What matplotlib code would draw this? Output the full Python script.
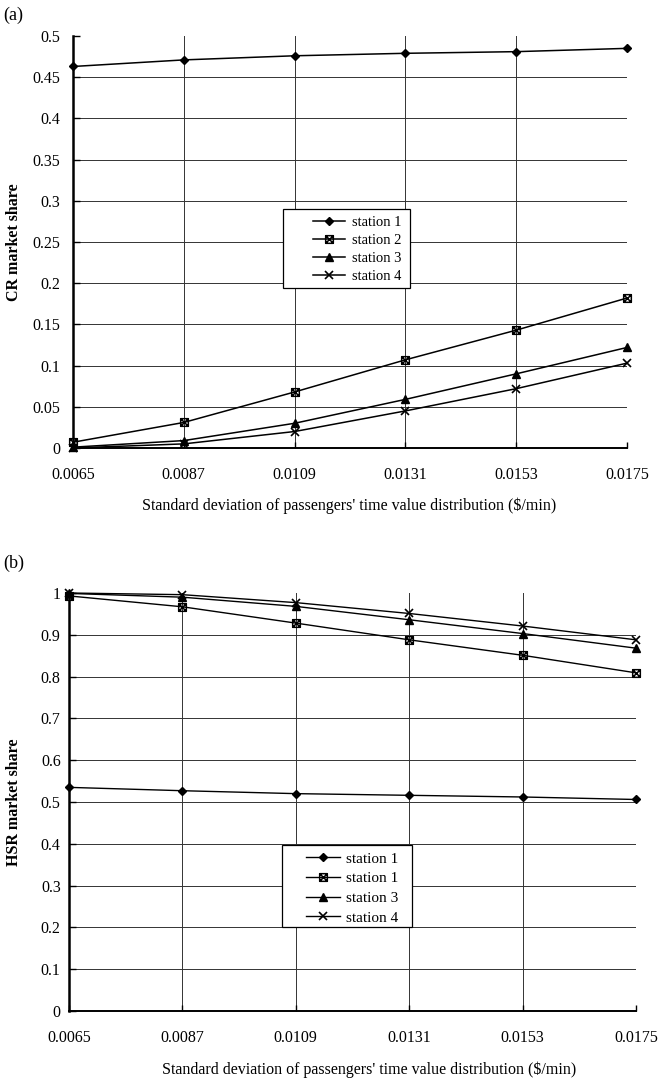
import matplotlib
matplotlib.use("Agg")
import matplotlib.pyplot as plt
from matplotlib.path import Path
from matplotlib.patches import Rectangle

plt.rcParams['font.family'] = ['Liberation Serif', 'DejaVu Serif']

# ---------------- data ----------------
x_values = [0.0065, 0.0087, 0.0109, 0.0131, 0.0153, 0.0175]
x_ticklabels = ["0.0065", "0.0087", "0.0109", "0.0131", "0.0153", "0.0175"]

cr_station1 = [0.463, 0.471, 0.476, 0.479, 0.481, 0.485]
cr_station2 = [0.007, 0.031, 0.068, 0.107, 0.143, 0.182]
cr_station3 = [0.001, 0.009, 0.030, 0.059, 0.090, 0.122]
cr_station4 = [0.000, 0.005, 0.020, 0.045, 0.072, 0.103]

hsr_station1 = [0.535, 0.527, 0.520, 0.516, 0.512, 0.506]
hsr_station2 = [0.993, 0.967, 0.928, 0.888, 0.851, 0.809]
hsr_station3 = [0.999, 0.990, 0.968, 0.936, 0.903, 0.868]
hsr_station4 = [1.000, 0.996, 0.977, 0.951, 0.921, 0.888]

cr_labels = ["station 1", "station 2", "station 3", "station 4"]
hsr_labels = ["station 1", "station 1", "station 3", "station 4"]

cr_yticks = [0, 0.05, 0.1, 0.15, 0.2, 0.25, 0.3, 0.35, 0.4, 0.45, 0.5]
cr_yticklabels = ["0", "0.05", "0.1", "0.15", "0.2", "0.25", "0.3", "0.35", "0.4", "0.45", "0.5"]
hsr_yticks = [0, 0.1, 0.2, 0.3, 0.4, 0.5, 0.6, 0.7, 0.8, 0.9, 1.0]
hsr_yticklabels = ["0", "0.1", "0.2", "0.3", "0.4", "0.5", "0.6", "0.7", "0.8", "0.9", "1"]

xlabel = "Standard deviation of passengers' time value distribution ($/min)"

# ---------------- styles ----------------
boxx = Path([(-1, -1), (1, -1), (1, 1), (-1, 1), (-1, -1),
             (-1, -1), (1, 1), (-1, 1), (1, -1)],
            [Path.MOVETO, Path.LINETO, Path.LINETO, Path.LINETO, Path.CLOSEPOLY,
             Path.MOVETO, Path.LINETO, Path.MOVETO, Path.LINETO])

styles = [
    dict(marker='D', ms=4.5, mfc='black', mec='black'),
    dict(marker=boxx, ms=5.5, mfc='none', mec='black', mew=1.1),
    dict(marker='^', ms=5.5, mfc='black', mec='black'),
    dict(marker='x', ms=6, mec='black', mew=1.2),
]

W, H = 658, 1085
fig = plt.figure(figsize=(W / 100, H / 100), dpi=100)


def px_axes(l, r, t, b):
    return fig.add_axes([l / W, 1 - b / H, (r - l) / W, (b - t) / H])


def setup(ax, yticks, yticklabels, ylim, ylabel, ylab_x, xlab_x, xlab_y, ypad):
    ax.set_xlim(x_values[0], x_values[-1])
    ax.set_ylim(*ylim)
    ax.set_xticks(x_values)
    ax.set_xticklabels(x_ticklabels)
    ax.set_yticks(yticks)
    ax.set_yticklabels(yticklabels)
    ax.tick_params(axis='x', direction='in', length=4, width=1.0, pad=14, labelsize=11.5)
    ax.tick_params(axis='y', direction='in', length=5, width=1.0, pad=ypad, labelsize=11.5)
    ax.grid(True, color='#333333', linewidth=0.7)
    ax.set_axisbelow(True)
    xg = ax.get_xgridlines()
    xg[0].set_visible(False)
    xg[-1].set_visible(False)
    yg = ax.get_ygridlines()
    yg[0].set_visible(False)
    yg[-1].set_visible(False)
    for s in ['top', 'right']:
        ax.spines[s].set_visible(False)
    ax.spines['left'].set_linewidth(1.8)
    ax.spines['bottom'].set_linewidth(1.4)
    ax.set_ylabel(ylabel, fontsize=11.5, fontweight='bold')
    ax.yaxis.set_label_coords(ylab_x, 0.5)
    ax.set_xlabel(xlabel, fontsize=11.5)
    ax.xaxis.set_label_coords(xlab_x, xlab_y)


def legend_box(handles, labels, rect, anchor, fs, spacing):
    l, r, t, b = rect
    fig.patches.append(Rectangle((l / W, 1 - b / H), (r - l) / W, (b - t) / H,
                                 transform=fig.transFigure, facecolor='white',
                                 edgecolor='black', linewidth=0.9, zorder=5))
    leg = fig.legend(handles, labels, loc='upper left',
                     bbox_to_anchor=(anchor[0] / W, 1 - anchor[1] / H),
                     bbox_transform=fig.transFigure, frameon=False,
                     fontsize=fs, handlelength=2.2, handletextpad=0.45,
                     labelspacing=spacing, borderpad=0, borderaxespad=0)
    leg.set_zorder(6)


# ---------------- panel (a) ----------------
ax1 = px_axes(73, 627, 36, 448)
cr_series = [cr_station1, cr_station2, cr_station3, cr_station4]
h1 = []
for ys, st in zip(cr_series, styles):
    ln, = ax1.plot(x_values, ys, color='black', lw=1.1, clip_on=False, zorder=3, **st)
    h1.append(ln)
setup(ax1, cr_yticks, cr_yticklabels, (0, 0.5), "CR market share",
      -0.092, 0.498, -0.121, 9)
legend_box(h1, cr_labels, (283, 410, 209, 288), (313, 216), 10.5, 0.32)
fig.text(3 / W, 1 - 15 / H, "(a)", fontsize=13, va='center', ha='left')

# ---------------- panel (b) ----------------
ax2 = px_axes(69, 636, 593, 1011)
hsr_series = [hsr_station1, hsr_station2, hsr_station3, hsr_station4]
h2 = []
for ys, st in zip(hsr_series, styles):
    ln, = ax2.plot(x_values, ys, color='black', lw=1.0, clip_on=False, zorder=3, **st)
    h2.append(ln)
setup(ax2, hsr_yticks, hsr_yticklabels, (0, 1.0), "HSR market share",
      -0.083, 0.53, -0.12, 6)
legend_box(h2, hsr_labels, (282, 412, 845, 927), (306, 852), 11, 0.39)
fig.text(3 / W, 1 - 563 / H, "(b)", fontsize=13, va='center', ha='left')

fig.savefig("out.png", dpi=100)
